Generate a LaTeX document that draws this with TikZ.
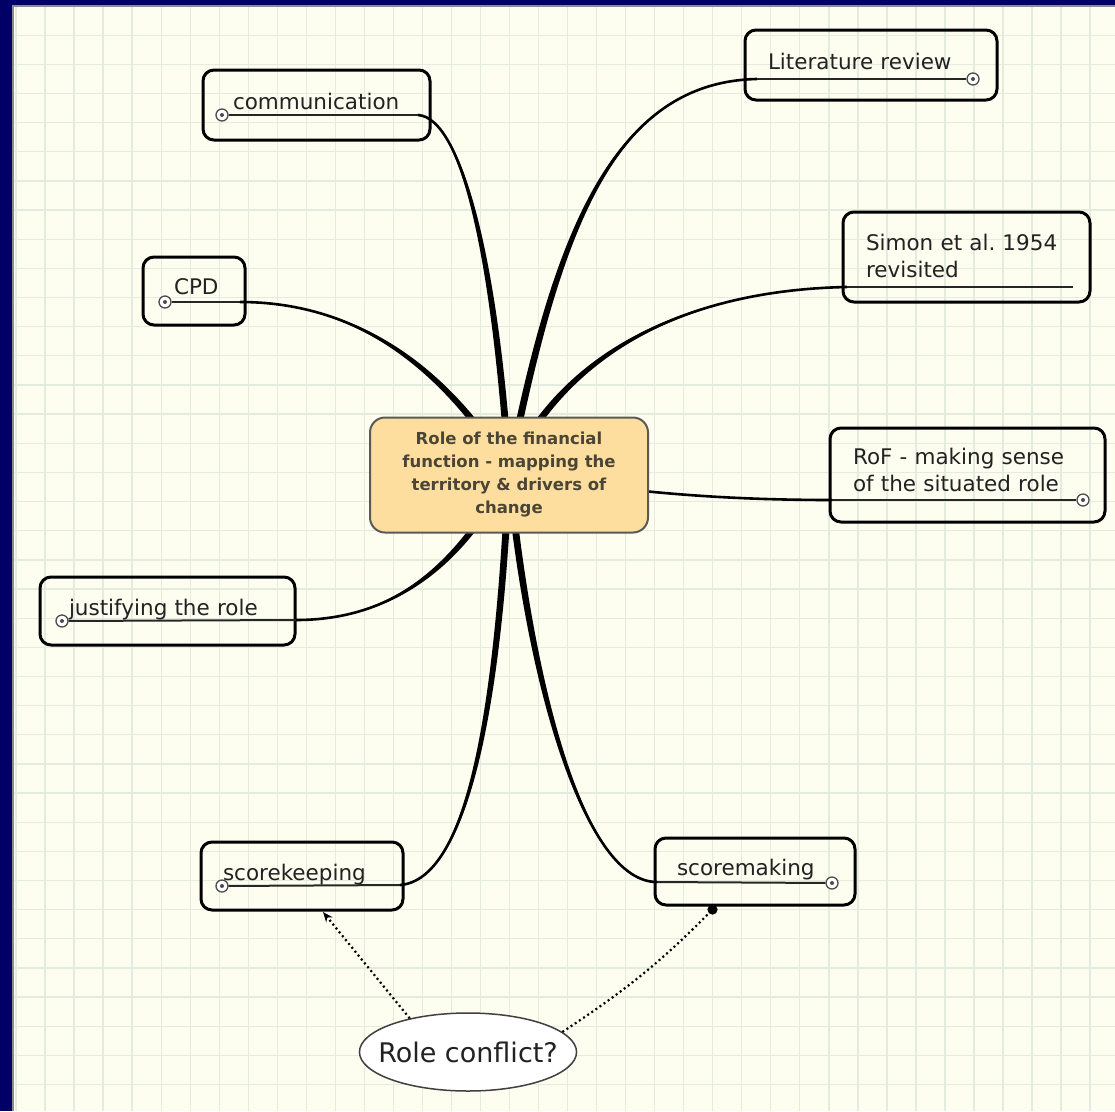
\documentclass[tikz,border=0pt]{standalone}
\usepackage{fontspec}
\setmainfont{DejaVu Sans}
\usetikzlibrary{shapes.geometric,arrows.meta,calc}
\definecolor{navy}{HTML}{000066}
\definecolor{paper}{HTML}{FDFDF0}
\definecolor{gridcol}{HTML}{E4ECE0}
\definecolor{hubfill}{HTML}{FDDE9F}
\definecolor{hubtext}{HTML}{4B4536}
\definecolor{ink}{HTML}{222222}
\newcommand{\topicfont}{\fontsize{21.5}{27.5}\selectfont}
% tapered branch: start, control 1, control 2, end, half width at start
\newcommand{\branch}[5]{%
  \fill ($(#1)+(#5)$) .. controls ($(#2)+(#5)$) and ($(#3)+0.25*(#5)$) .. (#4)
    .. controls ($(#3)-0.25*(#5)$) and ($(#2)-(#5)$) .. ($(#1)-(#5)$) -- cycle;
  \draw[line width=2.6pt] (#1) .. controls (#2) and (#3) .. (#4);}
\tikzset{
  topic/.style={draw=black, line width=3pt, rounded corners=11pt, align=left,
    text=ink, font=\topicfont, inner ysep=0pt, text depth=8pt},
  knob/.style={circle, draw=black!70, line width=1.3pt, fill=white,
    minimum size=12pt, inner sep=0pt,
    path picture={\fill[black!70] (path picture bounding box.center) circle (2pt);}},
  uline/.style={line width=2pt, black!85},
  hint/.style={line width=2.2pt, dash pattern=on 2pt off 3pt},
}

\begin{document}
\begin{tikzpicture}[x=1pt,y=-1pt]
  \useasboundingbox (0,0) rectangle (1115,1111);
  % paper and grid
  \fill[paper] (0,0) rectangle (1115,1111);
  \foreach \i in {0,...,38}
    \draw[gridcol, line width=1.3pt] ({16+29.03*\i},0) -- ({16+29.03*\i},1111);
  \foreach \j in {0,...,38}
    \draw[gridcol, line width=1.3pt] (0,{6+29.15*\j}) -- (1115,{6+29.15*\j});
  \fill[navy] (0,0) rectangle (12,1111);
  \fill[navy] (0,0) rectangle (1115,5);
  \draw[black!45, line width=1.5pt] (12.75,1111) -- (12.75,5.75) -- (1115,5.75);

  % topics
  \node[topic, text width=167pt, inner xsep=30pt, minimum height=70pt] (comm) at (316.5,105) {communication};
  \node[topic, text width=206pt, inner xsep=23pt, minimum height=70pt] (lit) at (871,65) {Literature review};
  \node[topic, text width=40pt, inner xsep=31pt, minimum height=68pt] (cpd) at (194,291) {CPD};
  \node[topic, text width=201pt, inner xsep=23pt, minimum height=90pt, text depth=30pt] (simon) at (966.5,257) {Simon et al.\ 1954\\revisited};
  \node[topic, text width=229pt, inner xsep=23pt, minimum height=94pt, text depth=38pt] (rof) at (967.5,475) {RoF - making sense\\of the situated role};
  \node[topic, text width=197pt, inner xsep=29pt, minimum height=68pt] (just) at (167.5,611) {justifying the role};
  \node[topic, text width=158pt, inner xsep=22pt, minimum height=68pt] (keep) at (302,876) {scorekeeping};
  \node[topic, text width=156pt, inner xsep=22pt, minimum height=67pt] (make) at (755,871.5) {scoremaking};

  % underlines and knobs
  \node[knob] (comm-k) at (222,115) {};
  \coordinate (comm-r) at (418,115);
  \coordinate (lit-l) at (757,79);
  \node[knob] (lit-k) at (973,79) {};
  \node[knob] (cpd-k) at (165,302) {};
  \coordinate (cpd-r) at (240,302);
  \coordinate (simon-l) at (847,287);
  \coordinate (simon-r) at (1073,287);
  \coordinate (rof-l) at (832,500);
  \node[knob] (rof-k) at (1083,500) {};
  \node[knob] (just-k) at (62,621) {};
  \coordinate (just-r) at (296,620);
  \node[knob] (keep-k) at (222,886) {};
  \coordinate (keep-r) at (400,885);
  \coordinate (make-l) at (657,882);
  \node[knob] (make-k) at (832,883) {};
  \draw[uline] (comm-k) -- (comm-r);
  \draw[uline] (lit-l) -- (lit-k);
  \draw[uline] (cpd-k) -- (cpd-r);
  \draw[uline] (simon-l) -- (simon-r);
  \draw[uline] (rof-l) -- (rof-k);
  \draw[uline] (just-k) -- (just-r);
  \draw[uline] (keep-k) -- (keep-r);
  \draw[uline] (make-l) -- (make-k);

  % branches
  \coordinate (core) at (509,472);
  \branch{core}{495,260}{462,118}{comm-r}{3.5,0}
  \branch{core}{555,240}{610,82}{lit-l}{3.5,0.5}
  \branch{core}{440,360}{350,302}{cpd-r}{3,-1.8}
  \branch{core}{565,350}{690,290}{simon-l}{3.2,1.5}
  \branch{core}{620,492}{720,500}{rof-l}{0,0.6}
  \branch{core}{455,575}{385,620}{just-r}{3.2,1.5}
  \branch{core}{498,720}{465,880}{keep-r}{3.5,0}
  \branch{core}{530,690}{585,882}{make-l}{3.5,-0.2}

  % central topic
  \node[draw=black!65, line width=2pt, fill=hubfill, rounded corners=15pt,
    minimum width=278pt, minimum height=115pt, align=center, text=hubtext,
    font=\fontsize{16.5}{23}\selectfont\bfseries] (role) at (509,475)
    {Role of the financial\\function - mapping the\\territory \& drivers of\\change};

  % role conflict
  \node[ellipse, draw=black!75, line width=1.5pt, fill=white, minimum width=214pt,
    minimum height=78pt, inner xsep=-13pt, inner ysep=0pt, text=ink,
    font=\fontsize{27}{30}\selectfont] (conflict) at (468,1052) {Role conflict?};
  \coordinate (keep-tip) at (323,912);
  \coordinate (make-dot) at (716,906);
  \draw[hint, -{Stealth[length=10pt, width=8pt]}] (conflict.150) -- (keep-tip);
  \draw[hint, -{Circle[length=10pt]}] (conflict.12) to[bend right=6] (make-dot);
\end{tikzpicture}
\end{document}
